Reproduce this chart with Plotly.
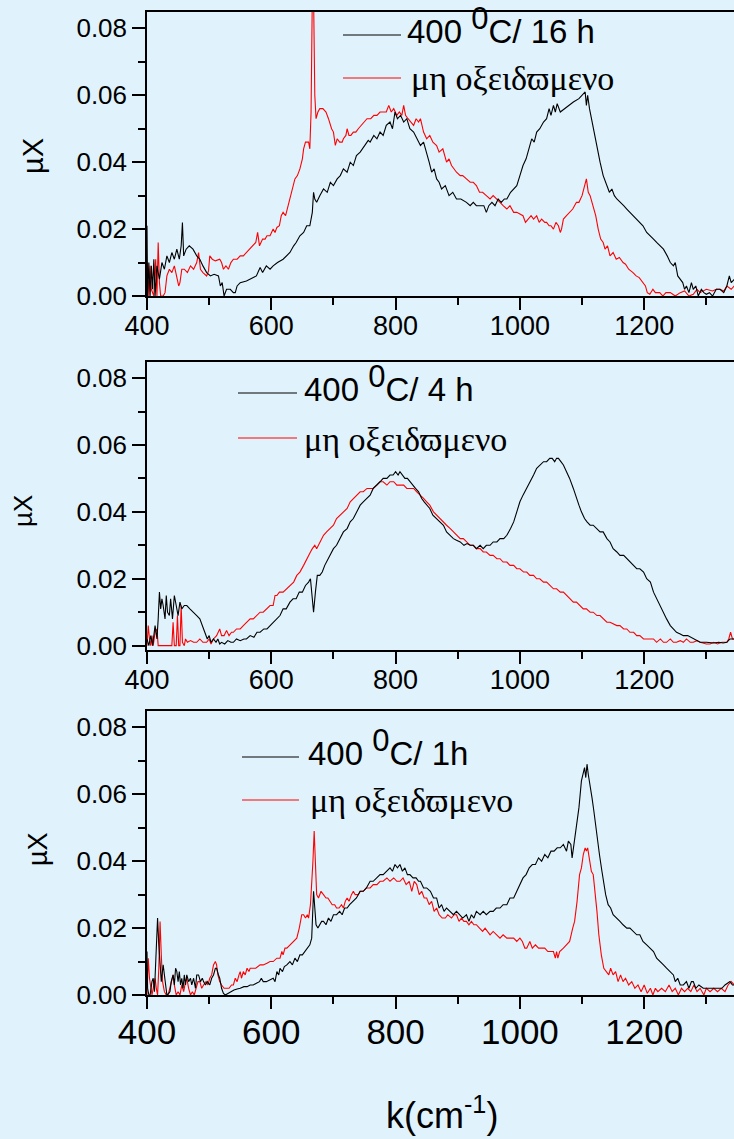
import plotly.graph_objects as go

# ---------------- data (wavenumber cm^-1, absorbance muX) ----------------
P1_BLACK = [(400, 0.021), (401, 0.0), (403, 0.010), (405, 0.0), (407, 0.009), (409, 0.002), (411, 0.011), (413, 0.0),
            (416, 0.009), (420, 0.005), (424, 0.010), (428, 0.008), (432, 0.012), (436, 0.010), (440, 0.013), (444, 0.011),
            (448, 0.014), (452, 0.011), (455, 0.015), (457, 0.022), (459, 0.012), (463, 0.014), (468, 0.015), (474, 0.014),
            (480, 0.012), (485, 0.011), (490, 0.009), (496, 0.007), (502, 0.006), (508, 0.0065), (515, 0.006), (518, 0.003),
            (521, 0.004), (524, 0.0), (528, 0.002), (534, 0.002), (539, 0.001), (542, 0.001), (545, 0.003), (550, 0.004),
            (560, 0.0045), (571, 0.0055), (576, 0.006), (582, 0.0085), (586, 0.007), (592, 0.009), (598, 0.008), (603, 0.009),
            (610, 0.010), (619, 0.011), (625, 0.012), (630, 0.013), (636, 0.015), (640, 0.016), (646, 0.018), (652, 0.019),
            (657, 0.021), (662, 0.021), (666, 0.025), (668, 0.031), (670, 0.029), (673, 0.028), (678, 0.030), (684, 0.032),
            (690, 0.031), (695, 0.034), (700, 0.033), (706, 0.035), (711, 0.036), (716, 0.038), (722, 0.037), (727, 0.040),
            (732, 0.039), (737, 0.042), (743, 0.043), (750, 0.045), (756, 0.0465), (759, 0.046), (765, 0.048), (770, 0.047),
            (775, 0.049), (780, 0.048), (785, 0.051), (791, 0.052), (795, 0.050), (799, 0.055), (803, 0.053), (808, 0.054),
            (813, 0.052), (818, 0.053), (823, 0.050), (829, 0.049), (834, 0.047), (840, 0.045), (845, 0.046), (850, 0.043),
            (854, 0.040), (858, 0.037), (862, 0.038), (866, 0.035), (870, 0.034), (874, 0.032), (880, 0.033), (886, 0.030),
            (892, 0.031), (898, 0.029), (905, 0.029), (914, 0.028), (920, 0.027), (925, 0.028), (930, 0.027), (936, 0.027),
            (942, 0.027), (946, 0.025), (950, 0.027), (955, 0.028), (960, 0.027), (965, 0.029), (970, 0.028), (975, 0.029),
            (979, 0.029), (985, 0.031), (990, 0.032), (995, 0.033), (1000, 0.036), (1005, 0.039), (1010, 0.041), (1015, 0.044),
            (1019, 0.047), (1023, 0.046), (1027, 0.049), (1032, 0.050), (1038, 0.052), (1043, 0.053), (1047, 0.056), (1050, 0.054),
            (1054, 0.057), (1057, 0.055), (1060, 0.0575), (1065, 0.055), (1075, 0.0565), (1086, 0.058), (1095, 0.059),
            (1102, 0.0605), (1105, 0.061), (1107, 0.057), (1109, 0.060), (1112, 0.056), (1115, 0.053), (1118, 0.050),
            (1123, 0.045), (1129, 0.040), (1134, 0.036), (1140, 0.033), (1144, 0.031), (1148, 0.032), (1152, 0.030),
            (1156, 0.029), (1162, 0.028), (1167, 0.027), (1172, 0.026), (1177, 0.025), (1182, 0.024), (1188, 0.023),
            (1193, 0.022), (1198, 0.021), (1204, 0.019), (1210, 0.018), (1215, 0.017), (1220, 0.016), (1226, 0.015),
            (1231, 0.014), (1237, 0.012), (1242, 0.010), (1247, 0.009), (1250, 0.010), (1254, 0.006), (1258, 0.005),
            (1262, 0.004), (1265, 0.002), (1268, 0.003), (1272, 0.001), (1276, 0.004), (1279, 0.002), (1283, 0.003),
            (1287, 0.0), (1292, 0.002), (1296, 0.001), (1300, 0.0005), (1305, 0.001), (1310, 0.0), (1316, 0.002),
            (1322, 0.002), (1328, 0.001), (1333, 0.003), (1337, 0.006), (1340, 0.004), (1345, 0.005)]

P1_RED = [(400, 0.0), (401, 0.010), (403, 0.0), (405, 0.009), (407, 0.002), (409, 0.001), (411, 0.0), (414, 0.011),
          (416, 0.0), (418, 0.016), (420, 0.004), (422, 0.0), (426, 0.0), (429, 0.001), (432, 0.006), (436, 0.008),
          (440, 0.007), (444, 0.009), (448, 0.006), (451, 0.003), (453, 0.004), (456, 0.008), (460, 0.008), (465, 0.007),
          (470, 0.009), (475, 0.008), (480, 0.010), (483, 0.013), (486, 0.008), (490, 0.007), (496, 0.006), (499, 0.0075),
          (501, 0.012), (505, 0.011), (510, 0.0105), (517, 0.011), (520, 0.010), (523, 0.008), (527, 0.009), (531, 0.008),
          (535, 0.010), (539, 0.011), (545, 0.011), (550, 0.012), (555, 0.012), (560, 0.013), (565, 0.014), (570, 0.015),
          (575, 0.016), (578, 0.019), (581, 0.015), (586, 0.017), (590, 0.017), (593, 0.018), (598, 0.018), (603, 0.020),
          (606, 0.019), (609, 0.0205), (613, 0.021), (616, 0.024), (619, 0.025), (623, 0.024), (627, 0.027), (630, 0.029),
          (633, 0.031), (636, 0.033), (638, 0.035), (642, 0.036), (646, 0.038), (650, 0.041), (652, 0.044), (655, 0.046),
          (657, 0.046), (660, 0.046), (662, 0.044), (664, 0.055), (666, 0.090), (668, 0.090), (670, 0.060), (672, 0.053),
          (675, 0.055), (678, 0.056), (683, 0.056), (688, 0.055), (692, 0.053), (695, 0.051), (697, 0.050), (700, 0.049),
          (703, 0.045), (706, 0.047), (710, 0.046), (714, 0.046), (716, 0.047), (720, 0.048), (722, 0.050), (725, 0.048),
          (728, 0.048), (732, 0.049), (736, 0.049), (740, 0.050), (745, 0.051), (750, 0.052), (754, 0.053), (760, 0.053),
          (765, 0.054), (770, 0.054), (775, 0.055), (780, 0.055), (785, 0.055), (789, 0.057), (793, 0.055), (797, 0.056),
          (802, 0.054), (806, 0.055), (810, 0.054), (813, 0.057), (816, 0.054), (820, 0.053), (825, 0.052), (829, 0.051),
          (833, 0.053), (837, 0.052), (840, 0.053), (845, 0.049), (850, 0.047), (855, 0.048), (860, 0.046), (866, 0.045),
          (870, 0.043), (876, 0.044), (882, 0.040), (886, 0.041), (890, 0.039), (894, 0.038), (898, 0.037), (904, 0.036),
          (908, 0.036), (914, 0.035), (920, 0.034), (925, 0.034), (930, 0.033), (935, 0.031), (940, 0.031), (946, 0.030),
          (952, 0.029), (957, 0.030), (963, 0.029), (968, 0.028), (973, 0.027), (979, 0.026), (984, 0.027), (990, 0.025),
          (995, 0.025), (1000, 0.0245), (1005, 0.024), (1009, 0.022), (1013, 0.023), (1018, 0.024), (1022, 0.023),
          (1027, 0.024), (1031, 0.022), (1035, 0.023), (1040, 0.022), (1043, 0.022), (1047, 0.021), (1050, 0.021),
          (1054, 0.020), (1058, 0.022), (1062, 0.021), (1065, 0.019), (1067, 0.020), (1070, 0.023), (1075, 0.024),
          (1080, 0.025), (1085, 0.026), (1091, 0.028), (1095, 0.028), (1100, 0.030), (1104, 0.033), (1107, 0.035),
          (1110, 0.031), (1113, 0.030), (1116, 0.028), (1119, 0.026), (1122, 0.024), (1126, 0.020), (1130, 0.017),
          (1134, 0.016), (1137, 0.014), (1141, 0.015), (1145, 0.012), (1150, 0.013), (1155, 0.011), (1160, 0.0115),
          (1166, 0.010), (1170, 0.0095), (1175, 0.008), (1182, 0.007), (1187, 0.006), (1192, 0.0055), (1198, 0.004),
          (1202, 0.003), (1205, 0.001), (1209, 0.0005), (1214, 0.002), (1218, 0.001), (1225, 0.001), (1230, 0.0),
          (1235, 0.001), (1242, 0.001), (1250, 0.0), (1258, 0.001), (1265, 0.0015), (1272, 0.0), (1279, 0.0005),
          (1285, 0.002), (1290, 0.001), (1300, 0.002), (1310, 0.0015), (1316, 0.002), (1322, 0.002), (1328, 0.0015),
          (1333, 0.003), (1340, 0.002), (1345, 0.003)]

P2_BLACK = [(400, 0.002), (403, 0.0), (406, 0.003), (409, 0.0), (413, 0.006), (416, 0.002), (418, 0.008), (420, 0.016),
            (422, 0.011), (424, 0.014), (426, 0.012), (429, 0.008), (431, 0.015), (433, 0.010), (436, 0.009), (438, 0.014),
            (441, 0.008), (444, 0.015), (447, 0.012), (450, 0.009), (453, 0.013), (456, 0.011), (460, 0.012), (464, 0.012),
            (469, 0.011), (475, 0.010), (480, 0.009), (485, 0.008), (489, 0.006), (493, 0.004), (497, 0.002), (500, 0.003),
            (503, 0.001), (507, 0.002), (511, 0.001), (514, 0.002), (517, 0.0005), (520, 0.001), (525, 0.0005), (530, 0.0015),
            (535, 0.001), (539, 0.001), (544, 0.002), (550, 0.0015), (556, 0.002), (560, 0.002), (566, 0.003), (572, 0.0025),
            (577, 0.004), (582, 0.004), (588, 0.005), (593, 0.005), (598, 0.006), (603, 0.007), (608, 0.008), (614, 0.009),
            (619, 0.011), (624, 0.011), (630, 0.013), (635, 0.014), (640, 0.014), (645, 0.016), (650, 0.016), (655, 0.018),
            (660, 0.019), (663, 0.020), (666, 0.014), (668, 0.010), (671, 0.016), (674, 0.021), (678, 0.021), (682, 0.022),
            (686, 0.024), (689, 0.025), (694, 0.027), (700, 0.029), (705, 0.030), (711, 0.032), (716, 0.034), (722, 0.035),
            (727, 0.037), (732, 0.038), (738, 0.040), (743, 0.042), (748, 0.043), (753, 0.044), (759, 0.045), (764, 0.047),
            (770, 0.048), (775, 0.049), (780, 0.050), (786, 0.050), (791, 0.051), (796, 0.051), (800, 0.052), (804, 0.051),
            (807, 0.052), (811, 0.051), (815, 0.050), (819, 0.050), (823, 0.049), (828, 0.048), (832, 0.047), (837, 0.046),
            (842, 0.044), (846, 0.043), (850, 0.042), (855, 0.041), (860, 0.039), (866, 0.038), (872, 0.037), (877, 0.036),
            (882, 0.034), (888, 0.033), (893, 0.032), (898, 0.0315), (904, 0.031), (910, 0.030), (915, 0.0305), (920, 0.030),
            (925, 0.030), (930, 0.029), (936, 0.030), (941, 0.029), (946, 0.030), (952, 0.030), (957, 0.031), (963, 0.031),
            (968, 0.032), (974, 0.032), (979, 0.033), (985, 0.035), (990, 0.037), (995, 0.040), (1000, 0.043), (1005, 0.045),
            (1011, 0.047), (1016, 0.049), (1022, 0.051), (1027, 0.053), (1032, 0.054), (1038, 0.055), (1043, 0.055),
            (1048, 0.056), (1052, 0.056), (1056, 0.055), (1059, 0.056), (1062, 0.056), (1066, 0.055), (1070, 0.054),
            (1075, 0.052), (1080, 0.050), (1086, 0.047), (1091, 0.044), (1095, 0.042), (1099, 0.040), (1104, 0.038),
            (1108, 0.037), (1113, 0.036), (1118, 0.036), (1124, 0.035), (1129, 0.034), (1134, 0.034), (1140, 0.032),
            (1145, 0.031), (1150, 0.029), (1156, 0.028), (1161, 0.027), (1167, 0.027), (1172, 0.026), (1177, 0.025),
            (1183, 0.024), (1188, 0.023), (1193, 0.023), (1199, 0.022), (1204, 0.020), (1210, 0.019), (1215, 0.016),
            (1220, 0.014), (1225, 0.012), (1231, 0.010), (1236, 0.008), (1242, 0.006), (1247, 0.005), (1252, 0.004),
            (1258, 0.0035), (1263, 0.003), (1270, 0.003), (1279, 0.002), (1285, 0.0015), (1290, 0.001), (1300, 0.001),
            (1312, 0.0008), (1320, 0.001), (1327, 0.0008), (1333, 0.001), (1338, 0.002), (1341, 0.002), (1345, 0.002)]

P2_RED = [(400, 0.0), (402, 0.006), (404, 0.002), (406, 0.0), (408, 0.003), (410, 0.0), (413, 0.004), (416, 0.005),
          (418, 0.0), (421, 0.0), (430, 0.0), (440, 0.0), (442, 0.007), (444, 0.0), (447, 0.0), (449, 0.009), (451, 0.0),
          (453, 0.0), (455, 0.012), (457, 0.001), (460, 0.0), (462, 0.002), (465, 0.001), (470, 0.0015), (475, 0.001),
          (480, 0.001), (485, 0.002), (490, 0.001), (496, 0.001), (500, 0.002), (503, 0.0005), (507, 0.002), (512, 0.003),
          (517, 0.005), (520, 0.003), (524, 0.003), (528, 0.0045), (532, 0.003), (536, 0.004), (539, 0.004), (544, 0.005),
          (550, 0.005), (555, 0.006), (560, 0.007), (566, 0.008), (571, 0.008), (577, 0.009), (582, 0.010), (587, 0.010),
          (593, 0.011), (598, 0.012), (603, 0.012), (606, 0.015), (609, 0.015), (613, 0.016), (619, 0.016), (625, 0.017),
          (630, 0.018), (636, 0.019), (641, 0.021), (646, 0.022), (652, 0.024), (657, 0.026), (663, 0.028), (666, 0.029),
          (670, 0.030), (673, 0.029), (678, 0.031), (684, 0.033), (689, 0.034), (694, 0.035), (700, 0.036), (705, 0.038),
          (711, 0.039), (716, 0.040), (722, 0.041), (727, 0.043), (732, 0.044), (738, 0.045), (743, 0.046), (748, 0.046),
          (754, 0.047), (759, 0.047), (764, 0.047), (770, 0.048), (775, 0.049), (780, 0.049), (786, 0.048), (791, 0.049),
          (797, 0.049), (802, 0.048), (807, 0.048), (813, 0.048), (818, 0.047), (823, 0.047), (829, 0.047), (834, 0.046),
          (840, 0.045), (845, 0.044), (850, 0.043), (855, 0.042), (861, 0.040), (866, 0.039), (872, 0.038), (877, 0.037),
          (882, 0.036), (888, 0.035), (893, 0.034), (898, 0.033), (904, 0.032), (909, 0.032), (914, 0.031), (920, 0.030),
          (925, 0.030), (930, 0.029), (936, 0.029), (941, 0.028), (946, 0.028), (952, 0.027), (957, 0.027), (963, 0.026),
          (968, 0.026), (973, 0.025), (979, 0.025), (984, 0.024), (990, 0.024), (995, 0.023), (1000, 0.023), (1006, 0.022),
          (1011, 0.022), (1016, 0.021), (1022, 0.021), (1027, 0.020), (1032, 0.020), (1038, 0.019), (1043, 0.019),
          (1048, 0.018), (1054, 0.017), (1059, 0.017), (1065, 0.016), (1070, 0.016), (1075, 0.015), (1080, 0.014),
          (1086, 0.013), (1091, 0.013), (1096, 0.012), (1102, 0.011), (1107, 0.011), (1113, 0.010), (1118, 0.010),
          (1124, 0.009), (1129, 0.009), (1134, 0.008), (1140, 0.007), (1145, 0.007), (1150, 0.0065), (1156, 0.006),
          (1161, 0.006), (1167, 0.005), (1172, 0.005), (1177, 0.004), (1183, 0.004), (1188, 0.003), (1193, 0.003),
          (1199, 0.002), (1204, 0.002), (1210, 0.002), (1215, 0.002), (1220, 0.001), (1226, 0.002), (1231, 0.001),
          (1236, 0.001), (1242, 0.002), (1247, 0.001), (1252, 0.001), (1258, 0.0015), (1263, 0.001), (1268, 0.002),
          (1274, 0.001), (1279, 0.001), (1285, 0.0015), (1290, 0.001), (1300, 0.0005), (1306, 0.0005), (1312, 0.001),
          (1318, 0.0005), (1325, 0.001), (1333, 0.001), (1336, 0.002), (1339, 0.004), (1342, 0.002), (1345, 0.002)]

P3_BLACK = [(400, 0.013), (401, 0.002), (403, 0.0), (405, 0.0), (408, 0.004), (410, 0.005), (412, 0.001), (415, 0.012),
            (417, 0.023), (419, 0.015), (421, 0.010), (423, 0.004), (426, 0.009), (428, 0.006), (430, 0.002), (432, 0.0),
            (435, 0.0005), (437, 0.001), (439, 0.004), (442, 0.006), (444, 0.003), (446, 0.008), (448, 0.007), (450, 0.004),
            (452, 0.007), (454, 0.003), (456, 0.005), (458, 0.002), (460, 0.006), (462, 0.003), (464, 0.006), (467, 0.004),
            (470, 0.005), (472, 0.003), (475, 0.005), (478, 0.002), (480, 0.006), (483, 0.006), (486, 0.004), (489, 0.005),
            (491, 0.004), (494, 0.003), (497, 0.004), (501, 0.003), (504, 0.005), (507, 0.006), (510, 0.008), (512, 0.008),
            (515, 0.006), (517, 0.005), (520, 0.002), (523, 0.0005), (526, 0.0), (530, 0.0005), (534, 0.001), (540, 0.0015),
            (545, 0.0018), (550, 0.002), (556, 0.0025), (561, 0.0025), (566, 0.003), (571, 0.003), (576, 0.0035), (581, 0.004),
            (584, 0.005), (587, 0.004), (592, 0.004), (598, 0.0045), (603, 0.005), (606, 0.004), (609, 0.007), (612, 0.006),
            (614, 0.008), (618, 0.007), (621, 0.0085), (625, 0.009), (630, 0.010), (634, 0.009), (638, 0.011), (642, 0.010),
            (646, 0.012), (650, 0.012), (654, 0.013), (658, 0.014), (662, 0.015), (665, 0.017), (667, 0.025), (668, 0.031),
            (670, 0.026), (672, 0.021), (675, 0.020), (678, 0.021), (681, 0.022), (684, 0.022), (688, 0.021), (692, 0.023),
            (696, 0.022), (700, 0.024), (705, 0.024), (710, 0.025), (714, 0.024), (718, 0.026), (722, 0.026), (726, 0.027),
            (732, 0.028), (737, 0.029), (743, 0.031), (748, 0.031), (753, 0.032), (759, 0.034), (764, 0.034), (770, 0.035),
            (775, 0.036), (780, 0.036), (785, 0.037), (791, 0.038), (795, 0.037), (799, 0.039), (803, 0.038), (807, 0.039),
            (811, 0.037), (815, 0.038), (819, 0.036), (823, 0.036), (828, 0.035), (833, 0.035), (837, 0.034), (840, 0.034),
            (845, 0.032), (850, 0.032), (856, 0.031), (861, 0.029), (866, 0.029), (870, 0.026), (874, 0.027), (878, 0.025),
            (882, 0.026), (888, 0.025), (893, 0.024), (898, 0.025), (903, 0.024), (908, 0.023), (914, 0.024), (918, 0.022),
            (922, 0.024), (926, 0.023), (930, 0.025), (936, 0.024), (941, 0.025), (946, 0.024), (952, 0.025), (957, 0.025),
            (962, 0.026), (968, 0.026), (973, 0.027), (979, 0.027), (984, 0.029), (990, 0.029), (995, 0.031), (1000, 0.033),
            (1005, 0.035), (1010, 0.036), (1015, 0.038), (1020, 0.039), (1025, 0.039), (1030, 0.041), (1035, 0.040),
            (1040, 0.042), (1045, 0.041), (1050, 0.043), (1055, 0.043), (1060, 0.044), (1065, 0.044), (1070, 0.045),
            (1075, 0.043), (1078, 0.046), (1082, 0.045), (1084, 0.041), (1087, 0.045), (1091, 0.051), (1095, 0.056),
            (1099, 0.064), (1102, 0.066), (1104, 0.068), (1106, 0.065), (1108, 0.069), (1110, 0.066), (1113, 0.063),
            (1116, 0.059), (1119, 0.055), (1121, 0.052), (1124, 0.047), (1128, 0.042), (1132, 0.037), (1135, 0.033),
            (1138, 0.030), (1142, 0.027), (1146, 0.026), (1150, 0.024), (1156, 0.023), (1161, 0.022), (1166, 0.021),
            (1172, 0.020), (1177, 0.020), (1182, 0.019), (1188, 0.018), (1193, 0.018), (1198, 0.016), (1204, 0.015),
            (1210, 0.014), (1215, 0.013), (1220, 0.011), (1226, 0.010), (1231, 0.009), (1236, 0.008), (1242, 0.007),
            (1247, 0.006), (1250, 0.004), (1254, 0.005), (1258, 0.003), (1263, 0.003), (1268, 0.004), (1272, 0.002),
            (1276, 0.004), (1279, 0.004), (1283, 0.002), (1288, 0.003), (1295, 0.002), (1302, 0.002), (1310, 0.002),
            (1317, 0.002), (1325, 0.002), (1330, 0.003), (1338, 0.004), (1342, 0.003), (1345, 0.003)]

P3_RED = [(400, 0.0), (402, 0.011), (404, 0.005), (406, 0.002), (408, 0.0), (410, 0.002), (413, 0.005), (415, 0.002),
          (417, 0.0), (419, 0.008), (421, 0.022), (423, 0.012), (425, 0.004), (428, 0.001), (431, 0.0), (434, 0.0),
          (437, 0.002), (440, 0.004), (442, 0.006), (444, 0.003), (447, 0.0), (450, 0.001), (453, 0.0), (456, 0.003),
          (459, 0.001), (462, 0.004), (464, 0.005), (467, 0.002), (470, 0.0), (473, 0.001), (476, 0.0), (479, 0.002),
          (482, 0.004), (485, 0.004), (488, 0.002), (491, 0.003), (495, 0.004), (498, 0.003), (501, 0.005), (504, 0.006),
          (507, 0.009), (510, 0.010), (512, 0.009), (514, 0.006), (517, 0.004), (520, 0.003), (524, 0.002), (528, 0.002),
          (532, 0.002), (536, 0.003), (539, 0.003), (542, 0.005), (545, 0.004), (548, 0.006), (550, 0.007), (552, 0.005),
          (555, 0.007), (558, 0.006), (561, 0.008), (564, 0.007), (566, 0.008), (570, 0.008), (575, 0.008), (582, 0.009),
          (587, 0.009), (593, 0.0095), (598, 0.010), (603, 0.010), (609, 0.011), (614, 0.011), (617, 0.013), (619, 0.012),
          (622, 0.014), (625, 0.014), (630, 0.015), (635, 0.016), (641, 0.017), (645, 0.020), (647, 0.022), (649, 0.024),
          (652, 0.024), (655, 0.023), (658, 0.024), (660, 0.023), (663, 0.027), (665, 0.033), (667, 0.040), (669, 0.049),
          (671, 0.040), (673, 0.030), (676, 0.029), (680, 0.031), (684, 0.030), (688, 0.029), (691, 0.029), (694, 0.028),
          (698, 0.027), (702, 0.027), (705, 0.026), (709, 0.026), (713, 0.027), (716, 0.026), (719, 0.028), (722, 0.029),
          (725, 0.028), (729, 0.030), (732, 0.031), (735, 0.030), (740, 0.030), (743, 0.031), (748, 0.031), (753, 0.032),
          (759, 0.032), (764, 0.033), (770, 0.033), (775, 0.034), (780, 0.034), (786, 0.035), (791, 0.034), (797, 0.035),
          (802, 0.034), (807, 0.034), (812, 0.035), (817, 0.033), (822, 0.034), (826, 0.031), (830, 0.034), (834, 0.033),
          (838, 0.030), (842, 0.031), (846, 0.029), (850, 0.029), (854, 0.027), (858, 0.028), (862, 0.025), (866, 0.026),
          (870, 0.024), (875, 0.023), (880, 0.023), (884, 0.024), (890, 0.023), (894, 0.024), (898, 0.024), (902, 0.022),
          (906, 0.023), (910, 0.022), (914, 0.022), (918, 0.021), (922, 0.022), (926, 0.021), (930, 0.021), (935, 0.020),
          (940, 0.019), (944, 0.020), (948, 0.019), (952, 0.018), (957, 0.019), (963, 0.018), (968, 0.017), (973, 0.018),
          (979, 0.017), (984, 0.017), (990, 0.017), (995, 0.016), (1000, 0.017), (1004, 0.016), (1008, 0.014), (1011, 0.014),
          (1016, 0.016), (1020, 0.014), (1025, 0.015), (1030, 0.014), (1035, 0.014), (1040, 0.014), (1045, 0.013),
          (1050, 0.013), (1054, 0.013), (1057, 0.011), (1059, 0.013), (1061, 0.011), (1064, 0.013), (1070, 0.014),
          (1075, 0.015), (1080, 0.016), (1085, 0.020), (1088, 0.022), (1092, 0.028), (1096, 0.036), (1099, 0.038),
          (1102, 0.042), (1105, 0.044), (1107, 0.043), (1109, 0.044), (1112, 0.040), (1115, 0.037), (1118, 0.036),
          (1121, 0.031), (1124, 0.025), (1127, 0.018), (1131, 0.012), (1135, 0.008), (1139, 0.007), (1143, 0.006),
          (1146, 0.008), (1150, 0.006), (1154, 0.007), (1158, 0.004), (1162, 0.006), (1166, 0.004), (1170, 0.005),
          (1175, 0.003), (1180, 0.004), (1185, 0.002), (1190, 0.003), (1195, 0.001), (1200, 0.003), (1205, 0.0005),
          (1210, 0.002), (1214, 0.0), (1218, 0.002), (1222, 0.001), (1228, 0.002), (1234, 0.001), (1240, 0.003),
          (1245, 0.001), (1250, 0.002), (1255, 0.0), (1260, 0.002), (1265, 0.001), (1270, 0.002), (1275, 0.001),
          (1280, 0.003), (1285, 0.001), (1290, 0.002), (1296, 0.0), (1300, 0.002), (1306, 0.001), (1312, 0.002),
          (1318, 0.001), (1324, 0.002), (1330, 0.001), (1335, 0.003), (1340, 0.004), (1345, 0.003)]

SUP0 = "<sup><span style='font-size:31px'>0</span></sup>"
LEGEND_TITLES = [f"400 {SUP0}C/ 16 h", f"400 {SUP0}C/ 4 h", f"400 {SUP0}C/ 1h"]
LEGEND_REF = "μη οξειδϖμενο"
Y_TITLE = "µX"
X_TITLE = "k(cm<sup>-1</sup>)"
X_TICKS = [400, 600, 800, 1000, 1200]
Y_TICKS = [0.00, 0.02, 0.04, 0.06, 0.08]

# ---------------- layout geometry ----------------
W, H = 734, 1139
ML, MT, MB = 147, 12, 144
PLOT_W = W - ML
PLOT_H = H - MT - MB
BG = "#E0F3FD"
SANS = "Arial, Liberation Sans, sans-serif"
SERIF = "Times New Roman, Liberation Serif, DejaVu Serif, serif"

X_RANGE = [400, 1344.5]
Y_RANGES = [[0, 0.0849], [-0.0013, 0.0848], [0, 0.0849]]
PANEL_PX = [(12, 296), (362, 650), (711, 995)]


def pxp(px):
    return (px - ML) / PLOT_W


def pyp(py):
    return (H - MB - py) / PLOT_H


fig = go.Figure()
series = [(P1_BLACK, P1_RED), (P2_BLACK, P2_RED), (P3_BLACK, P3_RED)]
for i, (blk, red) in enumerate(series, start=1):
    xa = "x" if i == 1 else f"x{i}"
    ya = "y" if i == 1 else f"y{i}"
    for data, col in ((red, "#FF0000"), (blk, "#000000")):
        fig.add_trace(go.Scatter(x=[p[0] for p in data], y=[p[1] for p in data], mode="lines",
                                 line=dict(color=col, width=1.1), xaxis=xa, yaxis=ya,
                                 showlegend=False, hoverinfo="skip"))

layout = dict(width=W, height=H, margin=dict(l=ML, r=0, t=MT, b=MB),
              paper_bgcolor=BG, plot_bgcolor=BG, showlegend=False)

tick_common = dict(tickcolor="black", tickwidth=1.5)
for i in range(1, 4):
    top, bot = PANEL_PX[i - 1]
    dom = [pyp(bot), pyp(top)]
    ykey = "yaxis" if i == 1 else f"yaxis{i}"
    xkey = "xaxis" if i == 1 else f"xaxis{i}"
    yname = "y" if i == 1 else f"y{i}"
    xname = "x" if i == 1 else f"x{i}"
    xfs = 35 if i == 3 else 27
    layout[xkey] = dict(domain=[0, 1], anchor=yname, range=X_RANGE, tickmode="array", tickvals=X_TICKS,
                        ticks="outside", ticklen=12, ticklabelstandoff=-7, **tick_common,
                        minor=dict(ticks="outside", ticklen=7, tickvals=[500, 700, 900, 1100, 1300], **tick_common),
                        showline=True, linecolor="black", linewidth=1.5, mirror=True,
                        showgrid=False, zeroline=False, tickfont=dict(family=SANS, size=xfs, color="black"))
    layout[ykey] = dict(domain=dom, anchor=xname, range=Y_RANGES[i - 1], tickmode="array", tickvals=Y_TICKS,
                        ticktext=[f"{v:.2f}" for v in Y_TICKS],
                        ticks="outside", ticklen=13, **tick_common,
                        minor=dict(ticks="outside", ticklen=7, tickvals=[0.01, 0.03, 0.05, 0.07], **tick_common),
                        showline=True, linecolor="black", linewidth=1.5,
                        showgrid=False, zeroline=False, tickfont=dict(family=SANS, size=26, color="black"))
    # overlay axes giving the inner half of the crossing ticks
    layout[f"xaxis{i + 3}"] = dict(overlaying=xname, anchor=yname, range=X_RANGE, tickmode="array",
                                   tickvals=X_TICKS, ticks="inside", ticklen=12, **tick_common,
                                   minor=dict(ticks="inside", ticklen=7, tickvals=[500, 700, 900, 1100, 1300], **tick_common),
                                   showticklabels=False, showgrid=False, zeroline=False, showline=False)
    layout[f"xaxis{i + 6}"] = dict(overlaying=xname, anchor=yname, side="top", range=X_RANGE, tickmode="array",
                                   tickvals=[500, 600, 700, 800, 900, 1000, 1100, 1200, 1300], ticks="inside",
                                   ticklen=4, **tick_common,
                                   showticklabels=False, showgrid=False, zeroline=False, showline=False)
    layout[f"yaxis{i + 3}"] = dict(overlaying=yname, anchor=xname, range=Y_RANGES[i - 1], tickmode="array",
                                   tickvals=Y_TICKS, ticks="inside", ticklen=13, **tick_common,
                                   minor=dict(ticks="inside", ticklen=7, tickvals=[0.01, 0.03, 0.05, 0.07], **tick_common),
                                   showticklabels=False, showgrid=False, zeroline=False, showline=False)

fig.update_layout(**layout)

# legends (drawn as line samples + text)
LEG = [  # (line x0, line x1, black y, red y, title x, greek x)
    (343, 401, 35, 78, 405, 409),
    (238, 297, 393, 438, 302, 302),
    (242, 299, 757, 800, 306, 308),
]
shapes = []
ann = []
for i, (x0, x1, yb, yr, tx, gx) in enumerate(LEG):
    shapes.append(dict(type="line", xref="paper", yref="paper", x0=pxp(x0), x1=pxp(x1), y0=pyp(yb), y1=pyp(yb),
                       line=dict(color="black", width=1.1)))
    shapes.append(dict(type="line", xref="paper", yref="paper", x0=pxp(x0), x1=pxp(x1), y0=pyp(yr), y1=pyp(yr),
                       line=dict(color="#FF0000", width=1.1)))
    ann.append(dict(text=LEGEND_TITLES[i], x=pxp(tx), y=pyp(yb + 17), xref="paper", yref="paper",
                    xanchor="left", yanchor="bottom", showarrow=False,
                    font=dict(family=SANS, size=33, color="black")))
    ann.append(dict(text=LEGEND_REF, x=pxp(gx), y=pyp(yr + 1), xref="paper", yref="paper",
                    xanchor="left", yanchor="middle", showarrow=False,
                    font=dict(family=SERIF, size=34, color="black")))

# y titles
for (cx, cy, fs) in [(33, 156, 29), (23, 511, 26), (38, 849, 27)]:
    ann.append(dict(text=Y_TITLE, x=pxp(cx), y=pyp(cy), xref="paper", yref="paper", textangle=-90,
                    xanchor="center", yanchor="middle", showarrow=False,
                    font=dict(family=SANS, size=fs, color="black")))
# x title
ann.append(dict(text=X_TITLE, x=pxp(442), y=pyp(1113), xref="paper", yref="paper",
                xanchor="center", yanchor="middle", showarrow=False,
                font=dict(family=SANS, size=36, color="black")))

fig.update_layout(shapes=shapes, annotations=ann)
fig.write_html("out.html")
